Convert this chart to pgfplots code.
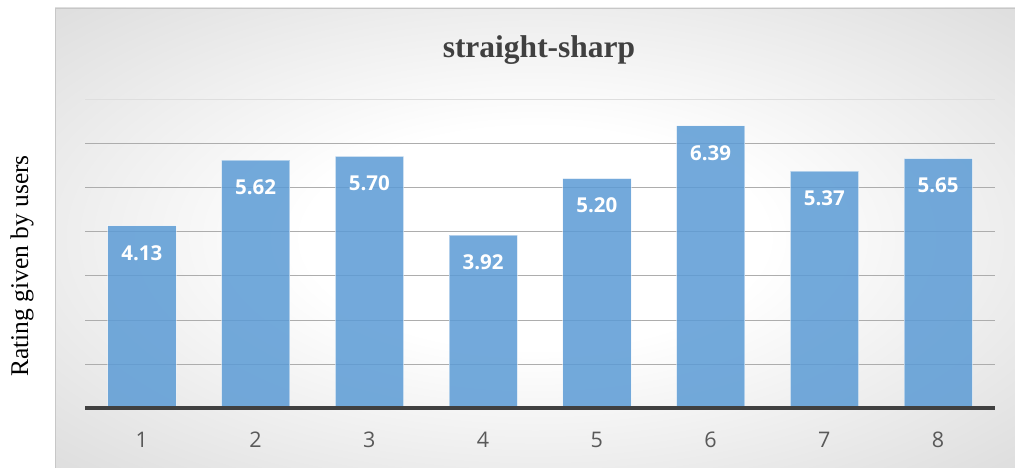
\documentclass[border=0pt]{standalone}
\usepackage{pgfplots}
\pgfplotsset{compat=1.18}
\usepackage{fontspec}
\setmainfont{Liberation Serif}
\newfontfamily\osans{Open Sans}
\definecolor{barblue}{HTML}{5B9BD5}
\definecolor{txtgrey}{HTML}{595959}
\definecolor{titlegrey}{HTML}{404040}
\pgfdeclareradialshading{bgshade}{\pgfpoint{0bp}{0bp}}{color(0bp)=(white); color(12bp)=(white); color(50bp)=(black!21); color(71bp)=(black!28)}
\begin{document}
\begin{tikzpicture}[x=1pt,y=1pt]
\useasboundingbox (0,0) rectangle (1015,468);
\fill[white] (0,0) rectangle (1015,468);
\shade[shading=bgshade] (55,0) rectangle (1015,460);
\draw[black!22, line width=0.8pt] (55,0) -- (55,460) -- (1015,460);
\begin{axis}[
  at={(85pt,59.5pt)}, anchor=south west,
  width=910pt, height=309.5pt, scale only axis,
  xmin=0.5, xmax=8.5, ymin=0, ymax=7,
  axis line style={draw=none},
  major tick length=0pt,
  ytick={1,2,3,4,5,6}, yticklabels={},
  ymajorgrids, grid style={black!32, line width=0.9pt},
  extra y ticks={7}, extra y tick labels={},
  extra y tick style={grid style={black!13, line width=0.9pt}},
  xtick={1,2,3,4,5,6,7,8},
  xticklabels={1,2,3,4,5,6,7,8},
  xticklabel style={font=\osans\fontsize{21.5}{24}\selectfont, text=txtgrey, anchor=base, yshift=-39pt},
  clip=false,
]
\addplot[ybar, bar width=0.6, fill=barblue, fill opacity=0.85, draw=white, draw opacity=0.45, line width=1pt,
  point meta=explicit symbolic,
  nodes near coords={\pgfplotspointmeta},
  every node near coord/.append style={font=\osans\bfseries\fontsize{20.5}{24}\selectfont, text=white, text opacity=1, anchor=center, yshift=-27pt}]
coordinates {(1,4.13) [4.13] (2,5.62) [5.62] (3,5.70) [5.70] (4,3.92) [3.92] (5,5.20) [5.20] (6,6.39) [6.39] (7,5.37) [5.37] (8,5.65) [5.65]};
\draw[titlegrey, line width=4pt] (axis cs:0.5,0) -- (axis cs:8.5,0);
\end{axis}
\node[anchor=base, font=\bfseries\fontsize{31.5}{36}\selectfont, text=titlegrey] at (539,410) {straight-sharp};
\node[anchor=base, rotate=90, font=\fontsize{25.5}{30}\selectfont, text=black] at (28,202) {Rating given by users};
\end{tikzpicture}
\end{document}
